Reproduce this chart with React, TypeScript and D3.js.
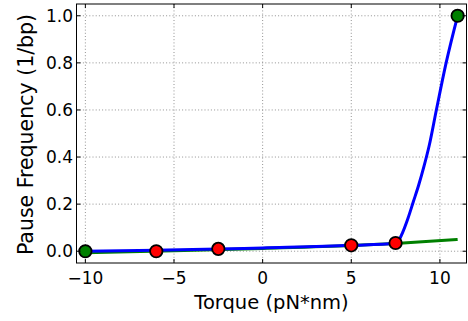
import React from "react";
import * as d3 from "d3";

const xTicks = [-10, -5, 0, 5, 10];
const yTicks = [0.0, 0.2, 0.4, 0.6, 0.8, 1.0];

const greenLineX = [-10, -5, 0, 5, 7.5, 9, 11];
const greenLineY = [-0.006, 0.002, 0.012, 0.024, 0.033, 0.04, 0.05];

const blueLineX = [-10, -6, -2.5, 0, 5, 7.5, 7.65, 7.9, 8.2, 8.5, 8.8, 9.1, 9.4, 9.8, 10.35, 11];
const blueLineY = [0.0, 0.004, 0.009, 0.014, 0.025, 0.034, 0.042, 0.08, 0.14, 0.21, 0.28, 0.36, 0.45, 0.6, 0.8, 1.0];

const redPointsX = [-6, -2.5, 5, 7.5];
const redPointsY = [0.0, 0.01, 0.025, 0.035];

const greenPointsX = [-10, 11];
const greenPointsY = [0.0, 1.0];

const W = 468;
const H = 321;
const M = { left: 76.5, right: 466.5, top: 4, bottom: 263 };

export default function App() {
  const x = d3.scaleLinear().domain([-10.5, 11.5]).range([M.left, M.right]);
  const y = d3.scaleLinear().domain([-0.05, 1.05]).range([M.bottom, M.top]);
  const line = d3
    .line<[number, number]>()
    .x((d) => x(d[0]))
    .y((d) => y(d[1]))
    .curve(d3.curveMonotoneX);
  const greenData = greenLineX.map((v, i) => [v, greenLineY[i]] as [number, number]);
  const blueData = blueLineX.map((v, i) => [v, blueLineY[i]] as [number, number]);
  const fmtY = d3.format(".1f");
  const fmtX = d3.format("d");
  const font = "'DejaVu Sans', sans-serif";
  return (
    <svg
      width={W}
      height={H}
      style={{ position: "absolute", left: 0, top: 0, background: "#fff" }}
    >
      <defs>
        <clipPath id="plot">
          <rect x={M.left} y={M.top} width={M.right - M.left} height={M.bottom - M.top} />
        </clipPath>
      </defs>
      {/* grid */}
      <g stroke="#777" strokeWidth={0.8} strokeDasharray="1,2.2">
        {xTicks.map((t) => (
          <line key={"gx" + t} x1={x(t)} x2={x(t)} y1={M.top} y2={M.bottom} />
        ))}
        {yTicks.map((t) => (
          <line key={"gy" + t} y1={y(t)} y2={y(t)} x1={M.left} x2={M.right} />
        ))}
      </g>
      <g clipPath="url(#plot)">
        <path d={line(greenData) || ""} fill="none" stroke="#008000" strokeWidth={3} />
        <path d={line(blueData) || ""} fill="none" stroke="#0000ff" strokeWidth={3} />
        {redPointsX.map((v, i) => (
          <circle key={"r" + i} cx={x(v)} cy={y(redPointsY[i])} r={6.2} fill="#ff0000" stroke="#000" strokeWidth={1.8} />
        ))}
        {greenPointsX.map((v, i) => (
          <circle key={"g" + i} cx={x(v)} cy={y(greenPointsY[i])} r={6.2} fill="#008000" stroke="#000" strokeWidth={1.8} />
        ))}
      </g>
      {/* ticks inside */}
      <g stroke="#000" strokeWidth={1}>
        {xTicks.map((t) => (
          <g key={"tx" + t}>
            <line x1={x(t)} x2={x(t)} y1={M.bottom} y2={M.bottom - 4} />
            <line x1={x(t)} x2={x(t)} y1={M.top} y2={M.top + 4} />
          </g>
        ))}
        {yTicks.map((t) => (
          <g key={"ty" + t}>
            <line y1={y(t)} y2={y(t)} x1={M.left} x2={M.left + 4} />
            <line y1={y(t)} y2={y(t)} x1={M.right} x2={M.right - 4} />
          </g>
        ))}
      </g>
      <rect
        x={M.left}
        y={M.top}
        width={M.right - M.left}
        height={M.bottom - M.top}
        fill="none"
        stroke="#000"
        strokeWidth={1}
      />
      {/* tick labels */}
      <g fontFamily={font} fontSize={17} fill="#000">
        {xTicks.map((t) => (
          <text key={"lx" + t} x={x(t)} y={284} textAnchor="middle">
            {fmtX(t)}
          </text>
        ))}
        {yTicks.map((t) => (
          <text key={"ly" + t} x={73} y={y(t)} dy="0.36em" textAnchor="end">
            {fmtY(t)}
          </text>
        ))}
      </g>
      <text x={(M.left + M.right) / 2} y={309} textAnchor="middle" fontFamily={font} fontSize={19.5}>
        Torque (pN*nm)
      </text>
      <text
        transform={`translate(33, ${(M.top + M.bottom) / 2 + 1}) rotate(-90)`}
        textAnchor="middle"
        fontFamily={font}
        fontSize={20.5}
      >
        Pause Frequency (1/bp)
      </text>
    </svg>
  );
}
